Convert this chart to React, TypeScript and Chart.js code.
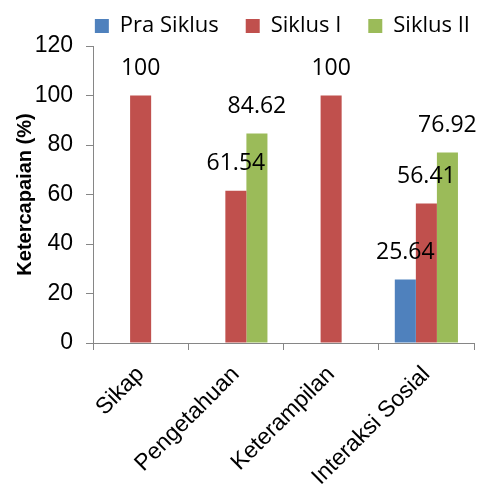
import { useEffect, useRef } from "react";
import { Chart, registerables } from "chart.js";

Chart.register(...registerables);

const categories = ["Sikap", "Pengetahuan", "Keterampilan", "Interaksi Sosial"];
const seriesNames = ["Pra Siklus", "Siklus I", "Siklus II"];
const praSiklus: (number | null)[] = [null, null, null, 25.64];
const siklusI: (number | null)[] = [100, 61.54, 100, 56.41];
const siklusII: (number | null)[] = [null, 84.62, null, 76.92];
const seriesColors = ["#4F81BD", "#C0504D", "#9BBB59"];
const yMin = 0;
const yMax = 120;
const yStep = 20;

const valueLabels = {
  id: "valueLabels",
  afterDatasetsDraw(chart: any) {
    const ctx = chart.ctx;
    ctx.save();
    ctx.font = '23px "Open Sans"';
    ctx.fillStyle = "#000";
    ctx.textAlign = "center";
    ctx.textBaseline = "middle";
    chart.data.datasets.forEach((ds: any, i: number) => {
      const meta = chart.getDatasetMeta(i);
      meta.data.forEach((el: any, j: number) => {
        const v = ds.data[j];
        if (v == null) return;
        ctx.fillText(String(v), el.x, el.y - 27);
      });
    });
    ctx.restore();
  },
};

const legendPlacement = {
  id: "legendPlacement",
  beforeLayout(chart: any) {
    const lg = chart.legend;
    if (lg && !lg.__patched) {
      const orig = lg.fit;
      lg.fit = function () {
        orig.call(this);
        this.height = 46;
      };
      lg.__patched = true;
    }
  },
  afterLayout(chart: any) {
    const lg = chart.legend;
    if (lg) {
      lg.top -= 12;
      lg.left += 23;
      lg.right += 23;
    }
  },
};

export default function App() {
  const ref = useRef<HTMLCanvasElement | null>(null);
  useEffect(() => {
    document.body.style.margin = "0";
    const series = [praSiklus, siklusI, siklusII];
    const chart = new Chart(ref.current as HTMLCanvasElement, {
      type: "bar",
      data: {
        labels: categories,
        datasets: series.map((d, i) => ({
          label: seriesNames[i],
          data: d,
          backgroundColor: seriesColors[i],
          borderWidth: 0,
          categoryPercentage: 0.663,
          barPercentage: 1,
        })),
      },
      options: {
        animation: false,
        responsive: false,
        layout: { padding: { left: 0, right: 5, top: 0, bottom: 0 } },
        plugins: {
          legend: {
            position: "top",
            align: "end",
            labels: {
              boxWidth: 14,
              boxHeight: 14,
              padding: 27,
              color: "#000",
              font: { family: "Open Sans", size: 22 },
            },
          },
          tooltip: { enabled: false },
        },
        scales: {
          x: {
            grid: {
              display: true,
              drawOnChartArea: false,
              drawTicks: true,
              tickLength: 7,
              color: "#868686",
            },
            border: { color: "#868686", width: 1 },
            ticks: {
              autoSkip: false,
              minRotation: 45,
              maxRotation: 45,
              padding: 11,
              color: "#000",
              font: { family: "Liberation Sans", size: 23 },
            },
            afterFit: (scale: any) => {
              scale.height = 143;
            },
          },
          y: {
            min: yMin,
            max: yMax,
            grid: {
              display: true,
              drawOnChartArea: false,
              drawTicks: true,
              tickLength: 7,
              color: "#868686",
            },
            border: { color: "#868686", width: 1 },
            ticks: {
              stepSize: yStep,
              padding: 13,
              color: "#000",
              font: { family: "Liberation Sans", size: 23 },
            },
            title: {
              display: true,
              text: "Ketercapaian (%)",
              color: "#000",
              font: { family: "Liberation Sans", size: 20, weight: "bold" },
              padding: { top: 13, bottom: 0 },
            },
            afterFit: (scale: any) => {
              scale.width = 93;
            },
          },
        },
      },
      plugins: [valueLabels, legendPlacement],
    } as any);
    return () => chart.destroy();
  }, []);
  return <canvas ref={ref} width={479} height={486} />;
}
